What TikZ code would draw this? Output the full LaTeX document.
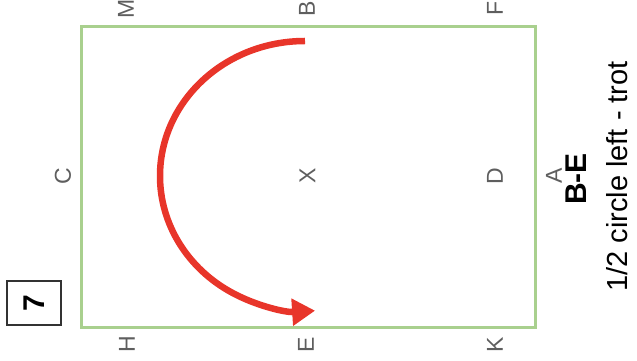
\documentclass[tikz,border=0pt]{standalone}
\usepackage{fontspec}
\setmainfont{Liberation Sans}
\usepackage{xcolor}
\definecolor{arena}{HTML}{A9D08E}
\definecolor{movecol}{HTML}{E8352A}
\definecolor{marker}{HTML}{5E5E5E}
\definecolor{frame}{HTML}{333333}
\usetikzlibrary{arrows.meta, positioning}

\begin{document}
\begin{tikzpicture}[
  x=1pt, y=1pt,
  every node/.style={inner sep=0pt, outer sep=0pt},
  letter/.style={text=marker, rotate=90, font=\fontsize{23}{23}\selectfont},
  caption/.style={text=black, rotate=90},
  movearrow/.style={line width=6.5pt, movecol, -{Triangle[length=23pt, width=26pt]}}
]
  \useasboundingbox (0,0) rectangle (637,361);

  % Arena
  \draw[arena, line width=3pt] (81.5,33.5) rectangle (535.5,334.5);

  % Markers round the arena
  \foreach \name/\x/\y in {M/126/352.5, B/307/352.5, F/495/352.5,
                          H/127/16.5, E/306/16.5, K/495/16.5,
                          C/63/185, X/307.5/185, D/495/185, A/554/185}
    \node[letter] (m\name) at (\x,\y) {\name};

  % Figure number
  \node[draw=frame, line width=1.5pt, rotate=90, minimum width=44pt, minimum height=54pt,
        font=\fontsize{30}{30}\selectfont\bfseries] (fignum) at (34,58) {7};

  % Movement text
  \node[caption, font=\fontsize{30}{30}\selectfont\bfseries] (move) at (576.5,182) {B-E};
  \node[caption, font=\fontsize{29}{29}\selectfont] (desc) at (617,184.5) {1/2 circle left - trot};

  % Half circle B to E
  \coordinate (turnstart) at (305,320);
  \draw[movearrow] (turnstart) arc[start angle=90, end angle=274, x radius=145pt, y radius=135pt];
\end{tikzpicture}
\end{document}
